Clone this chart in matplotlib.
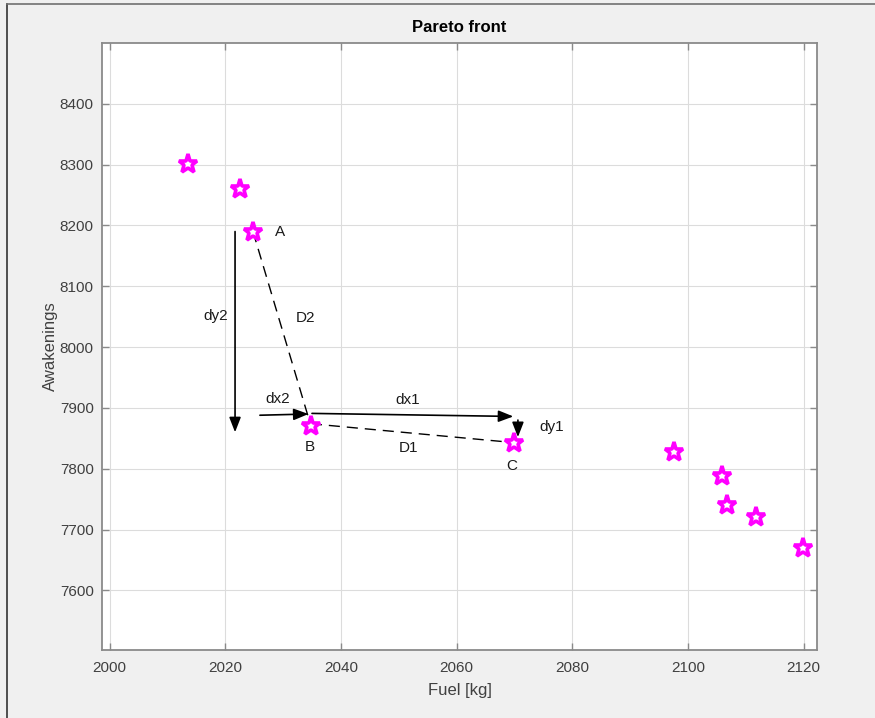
import matplotlib
matplotlib.use("Agg")
import matplotlib.pyplot as plt
from matplotlib.lines import Line2D

# ------------- DATA -------------
fuel = [2013.6, 2022.6, 2024.8, 2034.8, 2069.9, 2097.5, 2105.8, 2106.7, 2111.7, 2119.8]
awakenings = [8301, 8260, 8190, 7871, 7843, 7827, 7788, 7741, 7721, 7670]

# annotation arrows: (x0, y0, x1, y1)
arrow_dy2 = (2021.7, 8190, 2021.7, 7860)
arrow_dx2 = (2026.0, 7888, 2034.4, 7890)
arrow_dx1 = (2035.0, 7891, 2069.8, 7886)
arrow_dy1 = (2070.6, 7880, 2070.6, 7852)

# dashed segments A-B and B-C
seg_ab = ([2024.8, 2034.8], [8190, 7871])
seg_bc = ([2034.8, 2069.9], [7874, 7843])

labels = [
    ("A", 2029.4, 8190),
    ("B", 2034.6, 7836),
    ("C", 2069.5, 7804),
    ("D1", 2051.6, 7834),
    ("D2", 2033.8, 8048),
    ("dy2", 2018.3, 8051),
    ("dx2", 2029.1, 7914),
    ("dx1", 2051.6, 7913),
    ("dy1", 2076.5, 7869),
]

xticks = [2000, 2020, 2040, 2060, 2080, 2100, 2120]
yticks = [7600, 7700, 7800, 7900, 8000, 8100, 8200, 8300, 8400]
# --------------------------------

plt.rcParams["font.family"] = ["Liberation Sans", "DejaVu Sans"]

fig = plt.figure(figsize=(8.75, 7.18), dpi=100, facecolor="#f0f0f0")
ax = fig.add_axes([102 / 875, 1 - 650 / 718, (817 - 102) / 875, (650 - 43) / 718])
ax.set_facecolor("white")

ax.set_xlim(1998.7, 2122.3)
ax.set_ylim(7502, 8500)
ax.set_xticks(xticks)
ax.set_yticks(yticks)
ax.grid(True, color="#dcdcdc", linewidth=0.8)
ax.set_axisbelow(True)

for sp in ax.spines.values():
    sp.set_color("#8a8a8a")
    sp.set_linewidth(1.3)
ax.tick_params(direction="in", length=5, width=1, colors="#8a8a8a",
               labelcolor="#404040", labelsize=11,
               top=True, right=True)
ax.tick_params(axis="x", pad=8)
ax.tick_params(axis="y", pad=6)

# dashed segments
ax.plot(*seg_ab, color="black", linestyle=(0, (8, 5)), linewidth=1)
ax.plot(*seg_bc, color="black", linestyle=(0, (8, 5)), linewidth=1)

# arrows
for (x0, y0, x1, y1) in [arrow_dy2, arrow_dx2, arrow_dx1, arrow_dy1]:
    ax.annotate("", xy=(x1, y1), xytext=(x0, y0),
                arrowprops=dict(arrowstyle="-|>,head_length=0.9,head_width=0.35",
                                color="black", linewidth=1.2,
                                shrinkA=0, shrinkB=0))

# pareto points
ax.plot(fuel, awakenings, linestyle="none", marker="*", markersize=14,
        markerfacecolor="white", markeredgecolor="#ff00ff", markeredgewidth=2.6)

for txt, x, y in labels:
    ax.text(x, y, txt, fontsize=11, ha="center", va="center", color="#1a1a1a")

ax.set_title("Pareto front", fontsize=12, fontweight="bold", pad=8)
ax.set_xlabel("Fuel [kg]", fontsize=12, color="#404040", labelpad=6)
ax.set_ylabel("Awakenings", fontsize=12, color="#404040", labelpad=1)

# window edges
fig.add_artist(Line2D([7 / 875, 7 / 875], [0, 1 - 3.5 / 718], color="#333333", linewidth=1.2))
fig.add_artist(Line2D([7 / 875, 1], [1 - 3.5 / 718, 1 - 3.5 / 718], color="#707070", linewidth=1.2))

fig.savefig("out.png", dpi=100, facecolor=fig.get_facecolor())
